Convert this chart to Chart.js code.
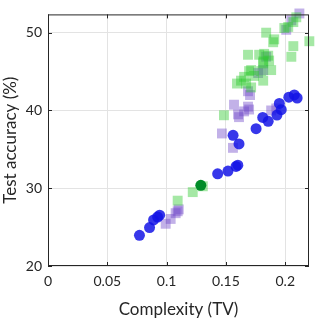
<!DOCTYPE html>
<html>
<head>
<meta charset="utf-8">
<script src="https://cdn.jsdelivr.net/npm/chart.js@4/dist/chart.umd.min.js"></script>
<style>
  html, body { margin: 0; padding: 0; background: #fff; }
  #wrap { width: 318px; height: 324px; }
</style>
</head>
<body>
<div id="wrap"><canvas id="myChart"></canvas></div>
<script>
// blue circles
var blueX = [0.0771, 0.0856, 0.0890, 0.0924, 0.0941, 0.1430, 0.1517, 0.1585, 0.1600, 0.1560,
             0.1610, 0.1754, 0.1810, 0.1856, 0.1930, 0.1966, 0.1950, 0.2030, 0.2076, 0.2100];
var blueY = [23.95, 24.94, 25.93, 26.30, 26.54, 31.85, 32.20, 32.80, 32.96, 36.80,
             35.70, 37.65, 39.10, 38.60, 39.40, 40.10, 40.90, 41.70, 42.00, 41.60];

// single dark green circle
var darkX = [0.1288];
var darkY = [30.37];

// purple squares
var purpleX = [0.0992, 0.1034, 0.1076, 0.1093, 0.1102, 0.1466, 0.1559, 0.1568, 0.1610, 0.1653,
               0.1686, 0.1695, 0.1602, 0.1686, 0.1703, 0.1771, 0.1814, 0.1839, 0.1881, 0.1924,
               0.2008, 0.2051, 0.2119];
var purpleY = [25.43, 26.05, 26.79, 27.04, 27.28, 37.04, 35.19, 40.74, 39.14, 39.88,
               40.49, 40.12, 39.50, 42.47, 41.98, 44.81, 45.19, 46.91, 40.00, 40.25,
               50.37, 51.60, 52.47];

// green squares
var greenX = [0.1093, 0.1220, 0.1305, 0.1483, 0.1593, 0.1627, 0.1653, 0.1670, 0.1695, 0.1737,
              0.1712, 0.1797, 0.1814, 0.1881, 0.1814, 0.1686, 0.1780, 0.1856, 0.1814, 0.1864,
              0.1822, 0.1839, 0.1898, 0.1907, 0.1992, 0.2051, 0.2068, 0.2203, 0.2025, 0.2068,
              0.2093, 0.1712];
var greenY = [28.40, 29.50, 30.25, 39.38, 43.46, 43.83, 44.32, 43.46, 45.06, 44.44,
              45.19, 45.06, 43.83, 45.19, 46.05, 47.16, 47.16, 47.04, 46.30, 46.42,
              47.28, 50.00, 48.77, 49.14, 50.60, 46.90, 48.27, 48.90, 50.74, 51.36,
              51.98, 42.96];

var xTicks = [0, 0.05, 0.1, 0.15, 0.2];
var yTicks = [20, 30, 40, 50];

function pts(xs, ys) {
    return xs.map(function (x, i) { return { x: x, y: ys[i] }; });
}

var ink = '#262626';

// box round the plot with inward tick marks on all four sides
var frame = {
    id: 'frame',
    afterDatasetsDraw: function (chart) {
        var a = chart.chartArea, c = chart.ctx;
        var xs = chart.scales.x, ys = chart.scales.y;
        c.save();
        c.strokeStyle = ink;
        c.lineWidth = 1;
        c.strokeRect(a.left + 0.5, a.top + 0.5, a.right - a.left - 1, a.bottom - a.top - 1);
        c.beginPath();
        xTicks.forEach(function (v) {
            var p = Math.round(xs.getPixelForValue(v)) + 0.5;
            c.moveTo(p, a.bottom); c.lineTo(p, a.bottom - 4);
            c.moveTo(p, a.top); c.lineTo(p, a.top + 4);
        });
        yTicks.forEach(function (v) {
            var p = Math.round(ys.getPixelForValue(v)) + 0.5;
            c.moveTo(a.left, p); c.lineTo(a.left + 4, p);
            c.moveTo(a.right, p); c.lineTo(a.right - 4, p);
        });
        c.stroke();
        c.restore();
    }
};

var ctx = document.getElementById('myChart').getContext('2d');
var myChart = new Chart(ctx, {
    type: 'scatter',
    data: {
        datasets: [{
            data: pts(blueX, blueY),
            pointStyle: 'circle',
            pointRadius: 5.5,
            backgroundColor: 'rgba(20, 20, 230, 0.85)',
            borderWidth: 0,
            clip: false,
        }, {
            data: pts(darkX, darkY),
            pointStyle: 'circle',
            pointRadius: 5.5,
            backgroundColor: 'rgb(0, 140, 40)',
            borderWidth: 0,
            clip: false,
        }, {
            data: pts(greenX, greenY),
            pointStyle: 'rect',
            pointRadius: 7,
            backgroundColor: 'rgba(40, 200, 40, 0.42)',
            borderWidth: 0,
            clip: false,
        }, {
            data: pts(purpleX, purpleY),
            pointStyle: 'rect',
            pointRadius: 7,
            backgroundColor: 'rgba(110, 70, 200, 0.42)',
            borderWidth: 0,
            clip: false,
        }]
    },
    options: {
        responsive: true,
        maintainAspectRatio: false,
        animation: false,
        layout: { padding: { top: 5, right: 9, left: 0, bottom: 0 } },
        plugins: { legend: { display: false }, tooltip: { enabled: false } },
        scales: {
            x: {
                min: 0, max: 0.22,
                afterBuildTicks: function (s) { s.ticks = xTicks.map(function (v) { return { value: v }; }); },
                afterFit: function (s) { s.height = 58; },
                grid: { color: '#e3e3e3', drawTicks: false },
                border: { display: false },
                ticks: {
                    color: ink, padding: 7,
                    font: { family: 'Lato', size: 14 },
                    callback: function (v) { return String(+v.toFixed(2)); }
                },
                title: { display: true, text: 'Complexity (TV)', color: ink, padding: { top: 2 }, font: { family: 'Lato', size: 17 } }
            },
            y: {
                min: 20, max: 52.35,
                afterBuildTicks: function (s) { s.ticks = yTicks.map(function (v) { return { value: v }; }); },
                afterFit: function (s) { s.width = 48; },
                grid: { color: '#e3e3e3', drawTicks: false },
                border: { display: false },
                ticks: { color: ink, padding: 6, font: { family: 'Lato', size: 14 } },
                title: { display: true, text: 'Test accuracy (%)', color: ink, padding: { top: 0, bottom: 0 }, font: { family: 'Lato', size: 17 } }
            }
        }
    },
    plugins: [frame]
});
</script>
</body>
</html>
